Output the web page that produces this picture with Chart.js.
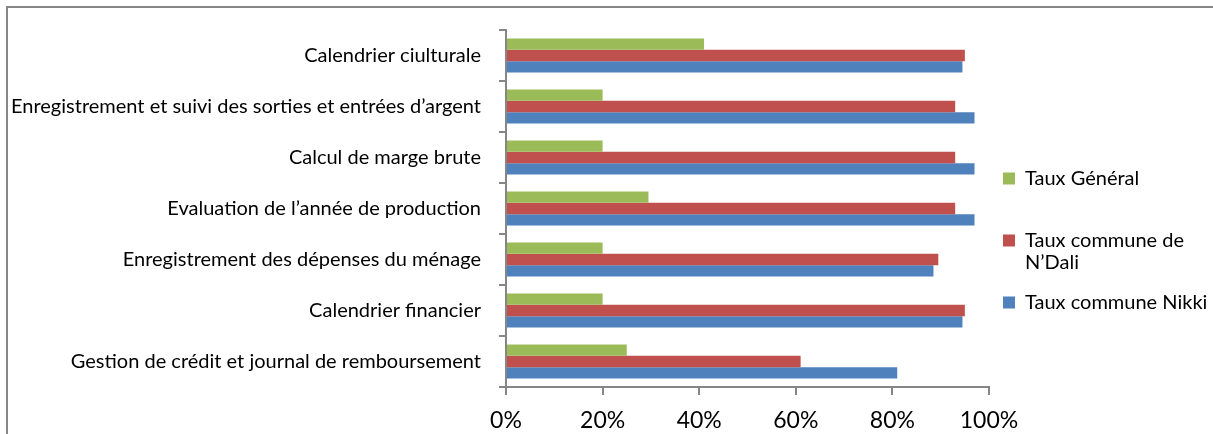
<!DOCTYPE html>
<html>
<head>
<meta charset="utf-8">
<script src="https://cdn.jsdelivr.net/npm/chart.js@4"></script>
<style>
  html, body { margin: 0; padding: 0; background: #fff; overflow: hidden; }
  #frame {
    position: absolute; left: 6px; top: 6px; width: 1300px; height: 500px;
    border-left: 2px solid #878787; border-top: 2px solid #878787;
  }
  #wrap { position: absolute; left: 0; top: 0; width: 1213px; height: 434px; }
</style>
</head>
<body>
<div id="frame"></div>
<div id="wrap"><canvas id="chart"></canvas></div>
<script>
// =========================
// DATA
// =========================
const categories = [
  "Calendrier ciulturale",
  "Enregistrement et suivi des sorties et entrées d’argent",
  "Calcul de marge brute",
  "Evaluation de l’année de production",
  "Enregistrement des dépenses du ménage",
  "Calendrier financier",
  "Gestion de crédit et journal de remboursement"
];

const tauxGeneral = [41, 20, 20, 29.5, 20, 20, 25];
const tauxNDali = [95, 93, 93, 93, 89.5, 95, 61];
const tauxNikki = [94.5, 97, 97, 97, 88.5, 94.5, 81];

const xTicks = [0, 20, 40, 60, 80, 100];

const seriesNames = [
  ["Taux Général", ""],
  ["Taux commune de", "N’Dali"],
  "Taux commune Nikki"
];

// =========================
// CHART
// =========================
const FONT = "Lato";
const AXIS_GREY = "#868686";

// nudge the legend block into place
const legendShift = {
  id: "legendShift",
  afterLayout(chart) {
    const lg = chart.legend;
    const dx = -4, dy = 12;
    lg.left += dx;
    lg.right += dx;
    lg.top += dy;
    lg.bottom += dy;
  }
};

const ctx = document.getElementById("chart").getContext("2d");

const chart = new Chart(ctx, {
  type: "bar",
  data: {
    labels: categories,
    datasets: [
      { label: "Taux Général", data: tauxGeneral, backgroundColor: "#9BBB59" },
      { label: "Taux commune de N’Dali", data: tauxNDali, backgroundColor: "#C0504D" },
      { label: "Taux commune Nikki", data: tauxNikki, backgroundColor: "#4F81BD" }
    ]
  },
  options: {
    indexAxis: "y",
    responsive: true,
    maintainAspectRatio: false,
    animation: false,
    datasets: {
      bar: { categoryPercentage: 0.665, barPercentage: 1.0, borderWidth: 0 }
    },
    layout: {
      padding: { left: 10, top: 25, right: 0, bottom: 2 }
    },
    scales: {
      x: {
        min: 0,
        max: 100,
        afterBuildTicks(axis) {
          axis.ticks = xTicks.map(v => ({ value: v }));
        },
        afterFit(scale) {
          scale.height = 45;
        },
        ticks: {
          callback: v => v + "%",
          color: "#000",
          font: { family: FONT, size: 23 },
          padding: 12,
          maxRotation: 0
        },
        grid: { drawOnChartArea: false, tickLength: 8, color: AXIS_GREY, lineWidth: 2 },
        border: { display: true, color: AXIS_GREY, width: 2 }
      },
      y: {
        afterFit(scale) {
          scale.width = 496;
        },
        ticks: {
          color: "#000",
          font: { family: FONT, size: 20 },
          padding: 18
        },
        grid: { drawOnChartArea: false, offset: true, tickLength: 7, color: AXIS_GREY, lineWidth: 2 },
        border: { display: true, color: AXIS_GREY, width: 2 }
      }
    },
    plugins: {
      tooltip: { enabled: false },
      legend: {
        position: "right",
        align: "center",
        maxWidth: 224,
        labels: {
          color: "#000",
          font: { family: FONT, size: 20, lineHeight: 1.1 },
          boxWidth: 12,
          boxHeight: 12,
          padding: 18,
          generateLabels(chart) {
            return chart.data.datasets.map((ds, i) => ({
              text: seriesNames[i],
              fillStyle: ds.backgroundColor,
              strokeStyle: ds.backgroundColor,
              lineWidth: 0,
              hidden: false,
              datasetIndex: i
            }));
          }
        }
      }
    }
  },
  plugins: [legendShift]
});
</script>
</body>
</html>
